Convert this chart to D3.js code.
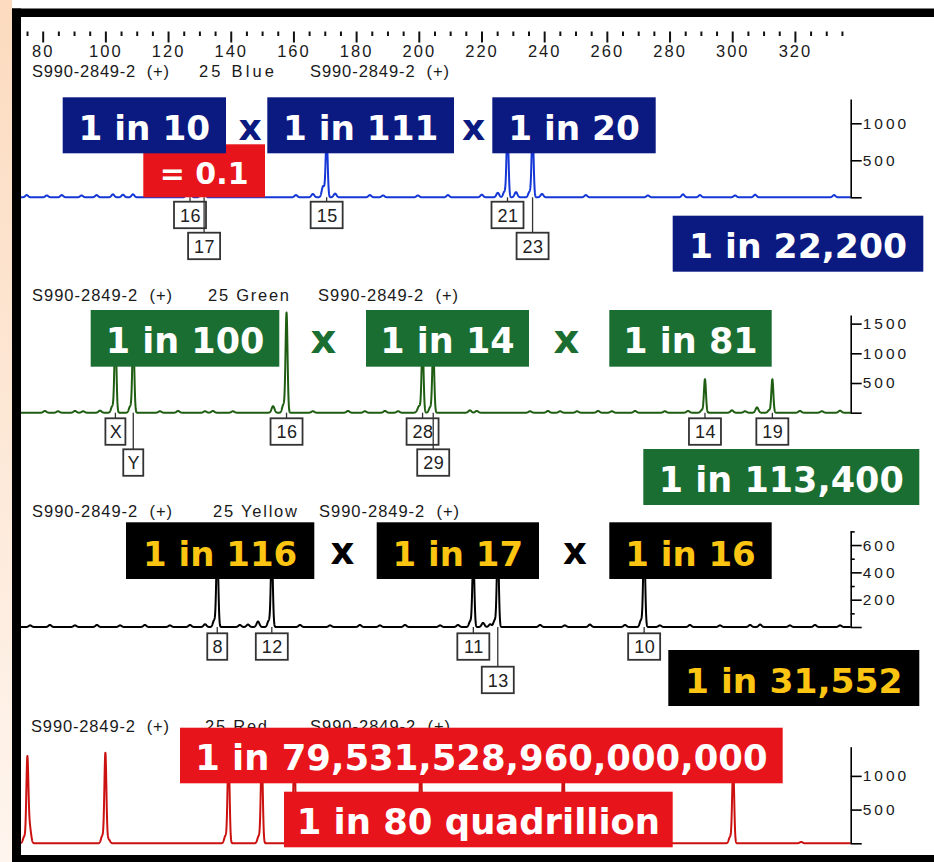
<!DOCTYPE html>
<html>
<head>
<meta charset="utf-8">
<script src="https://cdn.jsdelivr.net/npm/d3@7"></script>
<style>
  html, body { margin: 0; padding: 0; background: #fff; }
  svg { display: block; }
  text { white-space: pre; }
</style>
</head>
<body>
<svg id="chart" width="934" height="862"></svg>
<script>
// ---- Size axis (base pairs) ----
const bpMajorTicks = [80, 100, 120, 140, 160, 180, 200, 220, 240, 260, 280, 300, 320];
const bpMinorTicks = [75, 85, 90, 95, 105, 110, 115, 125, 130, 135, 145, 150, 155, 165, 170, 175,
                      185, 190, 195, 205, 210, 215, 225, 230, 235, 245, 250, 255, 265, 270, 275,
                      285, 290, 295, 305, 310, 315, 325, 330, 335];
const sampleName = "S990-2849-2\u00a0 (+)";

// ---- Blue dye (25 Blue) ----
const blueAlleles = ["16", "17", "15", "21", "23"];
const blueSizes   = [127.0, 131.5, 170.6, 228.3, 236.3];
const blueHeights = [620, 560, 820, 930, 900];
const blueRows    = [0, 1, 0, 0, 1];
const blueNoiseSizes   = [74.9, 81.3, 86.1, 92.4, 97.2, 102.4, 105.6, 108.8, 160.8, 166.2, 169.4, 173.3, 184.4, 188.6,
                          199.7, 209.3, 220.1, 225.2, 231.0, 239.3, 253.3, 273.1, 284.3, 289.7, 300.9, 307.3, 332.5];
const blueNoiseHeights = [30, 25, 30, 25, 30, 40, 35, 40, 30, 45, 90, 50, 30, 25,
                          25, 30, 35, 60, 70, 45, 30, 25, 40, 30, 25, 35, 30];
const blueTicks   = [0, 500, 1000];
const blueOdds    = ["1 in 10", "1 in 111", "1 in 20"];
const blueProduct = "1 in 22,200";
const blueHomozygote = "= 0.1";

// ---- Green dye (25 Green) ----
const greenAlleles = ["X", "Y", "16", "28", "29", "14", "19"];
const greenSizes   = [103.2, 108.9, 157.8, 201.2, 204.6, 291.3, 312.8];
const greenHeights = [1350, 1300, 1680, 1150, 1100, 562, 562];
const greenRows    = [0, 1, 0, 0, 1, 0, 0];
const greenNoiseSizes   = [80.7, 84.9, 90.3, 92.9, 98.3, 117.4, 123.2, 131.8, 134.3, 140.7, 153.5, 166.2, 177.4,
                           182.8, 189.2, 193.4, 199.7, 216.3, 218.5, 235.5, 241.2, 245.1, 250.5, 257.2, 261.6,
                           269.0, 278.5, 285.9, 299.9, 304.1, 307.9, 321.6, 328.6, 334.4];
const greenNoiseHeights = [30, 25, 30, 25, 35, 25, 30, 25, 30, 25, 110, 25, 30,
                           25, 30, 25, 35, 40, 30, 25, 30, 25, 25, 30, 25,
                           30, 25, 30, 40, 25, 90, 30, 25, 35];
const greenTicks   = [0, 500, 1000, 1500];
const greenOdds    = ["1 in 100", "1 in 14", "1 in 81"];
const greenProduct = "1 in 113,400";

// ---- Yellow dye (25 Yellow) ----
const yellowAlleles = ["8", "12", "11", "13", "10"];
const yellowSizes   = [135.7, 153.1, 217.4, 225.2, 271.9];
const yellowHeights = [600, 560, 520, 600, 620];
const yellowRows    = [0, 0, 0, 1, 0];
const yellowNoiseSizes   = [76.0, 82.3, 90.3, 97.3, 104.7, 112.6, 120.6, 127.0, 131.8, 142.9, 145.5, 148.7, 162.1,
                            171.7, 181.2, 187.6, 195.6, 206.8, 212.5, 220.5, 222.8, 238.7, 246.6, 254.6, 265.8,
                            276.9, 286.5, 296.1, 305.7, 308.9, 318.4, 326.4, 334.4];
const yellowNoiseHeights = [12, 15, 12, 15, 12, 15, 12, 15, 20, 15, 18, 40, 15,
                            12, 15, 12, 15, 12, 15, 30, 20, 15, 12, 18, 15,
                            12, 15, 12, 15, 18, 12, 15, 12];
const yellowTicks      = [0, 200, 400, 600];
const yellowMinorTicks = [100, 300, 500, 700];
const yellowOdds    = ["1 in 116", "1 in 17", "1 in 16"];
const yellowProduct = "1 in 31,552";

// ---- Red dye (25 Red) ----
const redSizes   = [75.1, 100.0, 139.3, 149.9, 160.3, 200.6, 246.1, 300.3];
const redHeights = [1211, 1335, 1350, 1300, 1400, 1350, 1250, 1150];
const redNoiseSizes   = [75.8, 101.0, 190.0, 322.0];
const redNoiseHeights = [260, 60, 20, 20];
const redTicks   = [0, 500, 1000];
const redProduct = "1 in 79,531,528,960,000,000";
const redWords   = "1 in 80 quadrillion";

// ---------------------------------------------------------------------------
const W = 934, H = 862;
const svg = d3.select("#chart");
const SANS = "'Liberation Sans', Arial, sans-serif";
const BOLD = "'DejaVu Sans', Verdana, sans-serif";

// shared size scale for all four dye lanes
const x = d3.scaleLinear().domain([73.08, 337.8]).range([21, 850.7]);

// page backdrop and frame
const defs = svg.append("defs");
const grad = defs.append("linearGradient").attr("id", "strip")
  .attr("x1", 0).attr("y1", 0).attr("x2", 0).attr("y2", 1);
grad.append("stop").attr("offset", 0).attr("stop-color", "#fcdbbf");
grad.append("stop").attr("offset", 1).attr("stop-color", "#fef5ee");
svg.append("rect").attr("width", W).attr("height", H).attr("fill", "#fff");
svg.append("rect").attr("x", 0).attr("y", 0).attr("width", 12).attr("height", H).attr("fill", "url(#strip)");

// size ruler along the top
const ruler = svg.append("g").attr("transform", "translate(0,31.5)");
ruler.append("g")
  .call(d3.axisBottom(x).tickValues(bpMinorTicks).tickSize(4.5).tickFormat(""))
  .call(g => g.select(".domain").remove());
ruler.append("g")
  .call(d3.axisBottom(x).tickValues(bpMajorTicks).tickSize(11).tickPadding(3))
  .call(g => g.select(".domain").remove());
ruler.selectAll(".tick line").attr("stroke", "#111").attr("stroke-width", 2);
ruler.selectAll(".tick text")
  .attr("font-family", SANS).attr("font-size", 16.5).attr("letter-spacing", "2px").attr("fill", "#1a1a1a");

// peak shape: sharp main peak with a small stutter shoulder
function signal(bp, sizes, heights, nSizes, nHeights) {
  let v = 0;
  for (let i = 0; i < sizes.length; i++) {
    const d = bp - sizes[i];
    v += heights[i] * Math.exp(-(d * d) / (2 * 0.32 * 0.32));
    const s = d + 1.0;
    v += heights[i] * 0.08 * Math.exp(-(s * s) / (2 * 0.4 * 0.4));
  }
  for (let i = 0; i < nSizes.length; i++) {
    const d = bp - nSizes[i];
    v += nHeights[i] * Math.exp(-(d * d) / (2 * 0.45 * 0.45));
  }
  return v;
}

const grid = d3.range(x.domain()[0], x.domain()[1], 0.04).concat([x.domain()[1]]);

function drawLane(p) {
  const g = svg.append("g");
  const y = d3.scaleLinear().domain([0, p.max]).range([p.base, p.top]);

  // lane header
  const header = [sampleName, p.dye, sampleName];
  header.forEach((t, i) => {
    g.append("text").attr("x", p.headerX[i]).attr("y", p.headerY)
      .attr("font-family", SANS).attr("font-size", 16.5).attr("fill", "#1a1a1a")
      .attr("textLength", p.headerW[i]).attr("lengthAdjust", "spacing")
      .text(t);
  });

  // electropherogram trace
  const line = d3.line()
    .x(d => x(d))
    .y(d => y(signal(d, p.sizes, p.heights, p.noiseSizes, p.noiseHeights)));
  g.append("path").datum(grid).attr("d", line)
    .attr("fill", "none").attr("stroke", p.trace).attr("stroke-width", 2)
    .attr("stroke-linejoin", "round");

  // intensity axis on the right
  const ax = g.append("g").attr("transform", `translate(${x.range()[1]},0)`);
  ax.call(d3.axisRight(y).tickValues(p.ticks).tickSize(11).tickSizeOuter(0).tickPadding(1)
    .tickFormat(d => d === 0 ? "" : d));
  if (p.minorTicks) {
    ax.append("g").call(d3.axisRight(y).tickValues(p.minorTicks).tickSize(4).tickFormat(""))
      .call(s => s.select(".domain").remove());
  }
  ax.selectAll(".domain").attr("stroke", "#000").attr("stroke-width", 1.6);
  ax.selectAll(".tick line").attr("stroke", "#000").attr("stroke-width", 1.6);
  ax.selectAll(".tick text").attr("font-family", SANS).attr("font-size", 15.5)
    .attr("letter-spacing", "3px").attr("fill", "#1a1a1a");

  // allele call boxes under the peaks
  if (p.alleles) {
    p.alleles.forEach((a, i) => {
      const cx = x(p.sizes[i]);
      const top = p.base + (p.rows[i] === 0 ? p.rowGap[0] : p.rowGap[1]);
      const w = a.length > 1 ? 32 : 20;
      g.append("line").attr("x1", cx).attr("x2", cx).attr("y1", p.base).attr("y2", top)
        .attr("stroke", "#333").attr("stroke-width", 1.3);
      g.append("rect").attr("x", cx - w / 2).attr("y", top).attr("width", w).attr("height", 26.5)
        .attr("fill", "#fff").attr("stroke", "#333").attr("stroke-width", 1.8);
      g.append("text").attr("x", cx + 0.5).attr("y", top + 20).attr("text-anchor", "middle")
        .attr("font-family", SANS).attr("font-size", 18).attr("letter-spacing", "0.5px")
        .attr("fill", "#222").text(a);
    });
  }
  return g;
}

function oddsBox(x0, x1, y0, y1, fill, label, color, fs) {
  svg.append("rect").attr("x", x0).attr("y", y0).attr("width", x1 - x0).attr("height", y1 - y0)
    .attr("fill", fill);
  svg.append("text").attr("x", (x0 + x1) / 2).attr("y", y1 - 13.5).attr("text-anchor", "middle")
    .attr("font-family", BOLD).attr("font-weight", "bold").attr("font-size", fs)
    .attr("fill", color).text(label);
}
function times(cx, baseline, color, fs) {
  svg.append("text").attr("x", cx).attr("y", baseline).attr("text-anchor", "middle")
    .attr("font-family", BOLD).attr("font-weight", "bold").attr("font-size", fs)
    .attr("fill", color).text("x");
}

// ---- lanes ----
drawLane({
  dye: "25 Blue", headerX: [32, 199, 310], headerW: [137, 75, 139], headerY: 77,
  base: 197.3, top: 99, max: 1328, ticks: blueTicks, trace: "#1437d6",
  sizes: blueSizes, heights: blueHeights, noiseSizes: blueNoiseSizes, noiseHeights: blueNoiseHeights,
  alleles: blueAlleles, rows: blueRows, rowGap: [4.4, 35.4]
});
drawLane({
  dye: "25 Green", headerX: [32, 208, 318], headerW: [140, 81, 140], headerY: 301,
  base: 412.7, top: 315, max: 1645, ticks: greenTicks, trace: "#1f5e12",
  sizes: greenSizes, heights: greenHeights, noiseSizes: greenNoiseSizes, noiseHeights: greenNoiseHeights,
  alleles: greenAlleles, rows: greenRows, rowGap: [5.6, 36.6]
});
drawLane({
  dye: "25 Yellow", headerX: [32, 213, 319], headerW: [140, 84, 140], headerY: 517,
  base: 627, top: 530.7, max: 705, ticks: yellowTicks, minorTicks: yellowMinorTicks, trace: "#000",
  sizes: yellowSizes, heights: yellowHeights, noiseSizes: yellowNoiseSizes, noiseHeights: yellowNoiseHeights,
  alleles: yellowAlleles, rows: yellowRows, rowGap: [6.3, 39.7]
});
drawLane({
  dye: "25 Red", headerX: [31, 205, 310], headerW: [138, 62, 140], headerY: 732,
  base: 843.3, top: 746.7, max: 1433, ticks: redTicks, trace: "#cc1111",
  sizes: redSizes, heights: redHeights, noiseSizes: redNoiseSizes, noiseHeights: redNoiseHeights
});

// ---- random-match probabilities ----
const NAVY = "#0b1a80", GREEN = "#1b6e32", RED = "#e8141c", GOLD = "#fbc512";

// blue loci
oddsBox(143.3, 265, 144.3, 197.3, RED, blueHomozygote, "#fff", 30);
oddsBox(62.7, 226, 97.3, 153.3, NAVY, blueOdds[0], "#fff", 34.3);
oddsBox(267.3, 454, 97.3, 153.3, NAVY, blueOdds[1], "#fff", 34.3);
oddsBox(492.3, 655.7, 97.3, 153.3, NAVY, blueOdds[2], "#fff", 34.3);
times(250, 140, NAVY, 36);
times(473.5, 140, NAVY, 36);
oddsBox(672.7, 923.3, 215.7, 271.7, NAVY, blueProduct, "#fff", 34.6);

// green loci
oddsBox(90.7, 279.3, 310, 366.7, GREEN, greenOdds[0], "#fff", 35);
oddsBox(366, 529, 310, 366.7, GREEN, greenOdds[1], "#fff", 35);
oddsBox(609.3, 771.7, 310, 366.7, GREEN, greenOdds[2], "#fff", 35);
times(323.5, 353, GREEN, 40);
times(566.3, 353, GREEN, 40);
oddsBox(643.3, 919.3, 449, 505, GREEN, greenProduct, "#fff", 35);

// yellow loci
oddsBox(126, 314.3, 522.3, 579, "#000", yellowOdds[0], GOLD, 34);
oddsBox(376.7, 539, 522.3, 579, "#000", yellowOdds[1], GOLD, 34);
oddsBox(609.3, 771.7, 522.3, 579, "#000", yellowOdds[2], GOLD, 34);
times(342.5, 564, "#000", 37);
times(575, 564, "#000", 37);
oddsBox(668.3, 919.3, 650, 706, "#000", yellowProduct, GOLD, 34.5);

// combined profile
oddsBox(180, 782.7, 727.7, 783.3, RED, redProduct, "#fff", 35.4);
oddsBox(284, 672.7, 791.7, 847.3, RED, redWords, "#fff", 35.4);

// frame on top
svg.append("rect").attr("x", 12).attr("y", 8.5).attr("width", W - 12).attr("height", 8.5).attr("fill", "#000");
svg.append("rect").attr("x", 12).attr("y", 8.5).attr("width", 9).attr("height", H - 8.5).attr("fill", "#000");
svg.append("rect").attr("x", 12).attr("y", 855).attr("width", W - 12).attr("height", 7).attr("fill", "#000");
</script>
</body>
</html>
